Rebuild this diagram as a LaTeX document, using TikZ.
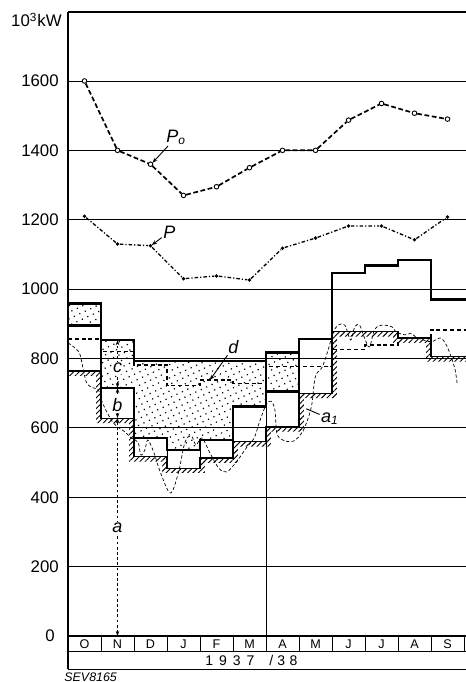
\documentclass[tikz,border=0pt]{standalone}
\usepackage{fontspec}
\setmainfont{Liberation Sans}
\usetikzlibrary{patterns.meta,arrows.meta}
\begin{document}
\begin{tikzpicture}[x=16.5pt,y=0.17345pt,
  gridline/.style={line width=0.45pt},
  axisline/.style={line width=0.9pt},
  mainline/.style={line width=1.35pt},
  thinbox/.style={line width=0.4pt},
  aoneline/.style={line width=0.55pt},
  hatchfill/.style={pattern={Lines[angle=45,distance=1.9pt,line width=0.45pt]}},
  dotfill/.style={pattern={Dots[radius=0.42pt,distance=3pt,angle=25]}},
  dline/.style={line width=0.6pt,dash pattern=on 2pt off 1.4pt},
  pzero/.style={line width=0.85pt,dash pattern=on 2.4pt off 1.3pt},
  pline/.style={line width=0.65pt,dash pattern=on 1.8pt off 1pt on 0.6pt off 1pt},
  wavy/.style={line width=0.35pt,dash pattern=on 1.6pt off 1.1pt},
  dimline/.style={line width=0.4pt,dash pattern=on 1.4pt off 1.2pt},
  dimtips/.style={{Stealth[length=2.6pt,width=1.8pt]}-{Stealth[length=2.6pt,width=1.8pt]}},
  leadtip/.style={-{Stealth[length=2.6pt,width=2pt]}},
  ticklbl/.style={font=\fontsize{8.4}{10}\selectfont,anchor=east,inner sep=0pt},
  monthlbl/.style={font=\fontsize{6.3}{7}\selectfont,inner sep=0pt},
  curvelbl/.style={font=\fontsize{9}{10}\selectfont\itshape,inner sep=0.6pt},
  leader/.style={line width=0.45pt},
  pzmark/.style={circle,draw,fill=white,line width=0.45pt,inner sep=0pt,minimum size=2.3pt},
  pmark/.style={circle,fill,inner sep=0pt,minimum size=1.9pt}
]
\useasboundingbox (-2.0606,-132.6) rectangle (12.0303,1833.4);

% grid
\foreach \v in {200,400,...,1600} \draw[gridline] (0,\v) -- (12.2,\v);
\draw[line width=0.7pt] (0,1798.8) -- (12.2,1798.8);

% tick labels
\foreach \v in {200,400,...,1600} \node[ticklbl] (t\v) at (-0.27,\v) {\v};
\node[ticklbl] (t0) at (-0.39,0) {0};
\node[ticklbl] (unit) at (-0.18,1776) {10\textsuperscript{3}kW};

% dotted storage regions
\fill[dotfill] (0,895) rectangle (1,958);
\fill[dotfill] (1,715) rectangle (2,853);
\fill[dotfill] (2,793) -- (2,571) -- (3,571) -- (3,536) -- (4,536) -- (4,565) -- (5,565) -- (5,661) -- (6,661) -- (6,793) -- cycle;
\fill[dotfill] (6,704) rectangle (7,817);

% hatched band below a1
\begin{scope}
\clip (0,764) -- (1,764) -- (1,628) -- (2,628) -- (2,517) -- (3,517) -- (3,484) -- (4,484) -- (4,513) -- (5,513) -- (5,560) -- (6,560) -- (6,603) -- (7,603) -- (7,700) -- (8,700) -- (8,877) -- (10,877) -- (10,859) -- (11,859) -- (11,805) -- (12.2,805) -- (12.2,0) -- (0,0) -- cycle;
\fill[hatchfill]
  \foreach \i/\v in {0/764,1/628,2/517,3/484,4/513,5/560,6/603,7/700,8/877,9/877,10/859,11/805} {(\i-0.15,\v-14) rectangle (\i+1.15,\v+14)}
  \foreach \b/\lo/\hi in {1/628/764,2/517/628,3/484/517,4/484/513,5/513/560,6/560/603,7/603/700,8/700/877,10/859/877,11/805/859} {(\b-0.15,\lo) rectangle (\b+0.15,\hi)};
\end{scope}

% thin boxes between a1 and main line
\foreach \i/\lo/\hi in {0/764/895,1/628/715,2/517/571,3/484/536,4/513/565,5/560/661,6/603/704,7/700/856}
  \draw[thinbox] (\i,\lo) rectangle (\i+1,\hi);
\draw[thinbox] (6,560) -- (6,0);

% fluctuating curve
\draw[wavy] plot[smooth,tension=0.55] coordinates {
(0.000,845) (0.328,819) (0.448,775) (0.567,729) (0.776,715) (0.925,709)
(1.045,672) (1.373,614) (1.731,588) (1.910,571) (2.119,559) (2.209,522)
(2.328,536) (2.418,565) (2.597,530) (2.806,470) (3.104,412) (3.343,470)
(3.522,551) (3.642,574) (3.761,574) (3.881,551) (4.060,571) (4.299,528)
(4.567,484) (4.806,473) (5.104,502) (5.403,542) (5.642,571) (5.791,614)
(6.000,666) (6.149,677) (6.269,652) (6.328,585) (6.507,565) (6.836,562)
(7.134,594) (7.373,660) (7.493,747) (7.701,775) (7.881,824) (8.030,873)
(8.179,896) (8.388,896) (8.567,853) (8.687,891) (8.836,896) (8.985,859)
(9.134,833) (9.284,882) (9.493,896) (9.821,891) (9.940,876) (10.239,868)
(10.388,873) (10.537,862) (10.776,853) (11.015,848) (11.284,859) (11.463,839)
(11.612,804) (11.731,767) (11.791,729)};

% dashed line d
\draw[dline] (0,856) -- (1,856) -- (1,820) -- (2,820) -- (2,781) -- (3,781) -- (3,723) -- (4,723) -- (4,738) -- (5,738) -- (5,729) -- (6,729) -- (6,776) -- (8,776) -- (8,826) -- (9,826) -- (9,839) -- (10,839) -- (10,859) -- (11,859) -- (11,882) -- (12.2,882);

% a1 line
\draw[aoneline] (0,764) -- (1,764) -- (1,628) -- (2,628) -- (2,517) -- (3,517) -- (3,484) -- (4,484) -- (4,513) -- (5,513) -- (5,560) -- (6,560) -- (6,603) -- (7,603) -- (7,700) -- (8,700) -- (8,877) -- (10,877) -- (10,859) -- (11,859) -- (11,805) -- (12.2,805);

% main thick lines
\draw[mainline] (0,958) -- (1,958) -- (1,853) -- (2,853) -- (2,793) -- (6,793) -- (6,817) -- (7,817);
\draw[mainline] (6,661) -- (6,817);
\draw[mainline] (0,895) -- (1,895) -- (1,715) -- (2,715) -- (2,571) -- (3,571) -- (3,536) -- (4,536) -- (4,565) -- (5,565) -- (5,661) -- (6,661) -- (6,704) -- (7,704) -- (7,856) -- (8,856) -- (8,1046) -- (9,1046) -- (9,1069) -- (10,1069) -- (10,1084) -- (11,1084) -- (11,971) -- (12.2,971);

% P0 and P curves
\foreach \v [count=\i from 0] in {1600,1400,1360,1270,1295,1350,1400,1400,1487,1535,1507,1490}
  \node[pzmark] (pz\i) at (\i+0.5,\v) {};
\draw[pzero] (pz0) -- (pz1) -- (pz2) -- (pz3) -- (pz4) -- (pz5) -- (pz6) -- (pz7) -- (pz8) -- (pz9) -- (pz10) -- (pz11);
\foreach \v [count=\i from 0] in {1210,1130,1125,1030,1038,1026,1118,1147,1182,1182,1142,1208}
  \node[pmark] (pp\i) at (\i+0.5,\v) {};
\draw[pline] (pp0) -- (pp1) -- (pp2) -- (pp3) -- (pp4) -- (pp5) -- (pp6) -- (pp7) -- (pp8) -- (pp9) -- (pp10) -- (pp11);

% labels with leaders
\node[curvelbl] (lpz) at (3.28,1438) {P\textsubscript{o}};
\coordinate (pzend) at (2.56,1364);
\draw[leader,leadtip] (lpz) -- (pzend);
\node[curvelbl] (lp) at (3.07,1165) {P};
\coordinate (pend) at (2.54,1127);
\draw[leader,leadtip] (lp) -- (pend);
\node[curvelbl] (ld) at (5.01,833) {d};
\coordinate (dend) at (4.3,738);
\draw[leader,leadtip] (ld) -- (dend);
\node[curvelbl] (la1) at (7.94,626) {a\textsubscript{1}};
\coordinate (aoneend) at (7.22,655);
\draw[leader] (la1) -- (aoneend);

% dimension line a, b, c
\coordinate (dim0) at (1.5,0);
\coordinate (dim1) at (1.5,628);
\coordinate (dim2) at (1.5,715);
\coordinate (dim3) at (1.5,853);
\draw[dimline,dimtips] (dim0) -- (dim1);
\draw[dimline,dimtips] (dim1) -- (dim2);
\draw[dimline,dimtips] (dim2) -- (dim3);
\node[curvelbl,fill=white] (la) at (1.5,312) {a};
\node[curvelbl,fill=white] (lb) at (1.5,666) {b};
\node[curvelbl,fill=white] (lc) at (1.5,772) {c};

% axes and month table
\draw[axisline] (0,-96) -- (0,1798.8);
\draw[axisline] (0,0) -- (12.2,0);
\draw[gridline] (0,-45.2) -- (12.2,-45.2);
\draw[line width=0.6pt] (0,-96) -- (12.2,-96);
\foreach \i in {1,...,12} \draw[gridline] (\i,0) -- (\i,-45.2);
\foreach \m [count=\i from 0] in {O,N,D,J,F,M,A,M,J,J,A,S}
  \node[monthlbl] (mon\i) at (\i+0.5,-22.6) {\m};
\node[font=\fontsize{7}{8}\selectfont,anchor=west,inner sep=0pt] (year) at (4.15,-70.6)
  {1\hspace{3pt}9\hspace{3pt}3\hspace{3pt}7\hspace{7.5pt}/\hspace{2pt}3\hspace{2.2pt}8};
\node[font=\fontsize{6.2}{7}\selectfont\itshape,anchor=west,inner sep=0pt] (sev) at (-0.12,-118) {SEV8165};
\end{tikzpicture}
\end{document}
